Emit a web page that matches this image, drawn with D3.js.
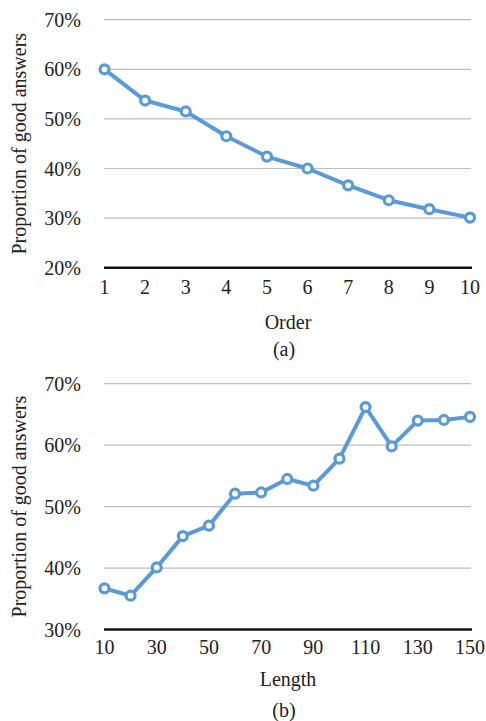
<!DOCTYPE html>
<html><head><meta charset="utf-8">
<script src="https://cdn.jsdelivr.net/npm/d3@7"></script>
<style>body{margin:0;background:#fff}svg{display:block}text{font-family:"Liberation Serif","Times New Roman",serif;fill:#222}</style>
</head><body>
<svg id="c" width="486" height="721"></svg>
<script>
const orderCats = [1,2,3,4,5,6,7,8,9,10];
const orderVals = [0.600,0.537,0.515,0.465,0.424,0.400,0.366,0.336,0.318,0.301];
const orderTicks = [0.2,0.3,0.4,0.5,0.6,0.7];
const lengthCats = [10,20,30,40,50,60,70,80,90,100,110,120,130,140,150];
const lengthVals = [0.367,0.355,0.401,0.452,0.469,0.521,0.523,0.545,0.534,0.578,0.662,0.598,0.640,0.641,0.646];
const lengthTicks = [0.3,0.4,0.5,0.6,0.7];
const lengthLabels = [10,30,50,70,90,110,130,150];

const svg = d3.select("#c");
const color = "#5B9BD5";
const fmt = d3.format(".0%");

function panel(cfg){
  const g = svg.append("g");
  const x = d3.scaleLinear().domain(d3.extent(cfg.cats)).range([104.5,470]);
  const y = d3.scaleLinear().domain([cfg.ticks[0], cfg.ticks[cfg.ticks.length-1]]).range([cfg.y0,cfg.y1]);
  // grid
  g.selectAll(".grid").data(cfg.ticks.slice(1)).join("line")
    .attr("x1",104).attr("x2",471).attr("y1",d=>y(d)).attr("y2",d=>y(d))
    .attr("stroke","#bdbdbd").attr("stroke-width",1.2);
  // baseline
  g.append("line").attr("x1",104).attr("x2",472).attr("y1",y(cfg.ticks[0])).attr("y2",y(cfg.ticks[0]))
    .attr("stroke","#111").attr("stroke-width",2.6);
  // y tick labels
  g.selectAll(".yt").data(cfg.ticks).join("text")
    .attr("x",81).attr("y",d=>y(d)).attr("dy","0.35em").attr("text-anchor","end")
    .attr("font-size",20).text(d=>fmt(d));
  // x tick labels
  g.selectAll(".xt").data(cfg.xlabels).join("text")
    .attr("x",d=>x(d)).attr("y",cfg.xty).attr("text-anchor","middle")
    .attr("font-size",20).text(d=>d);
  // line
  const data = cfg.cats.map((c,i)=>[c,cfg.vals[i]]);
  g.append("path").datum(data).attr("fill","none").attr("stroke",color).attr("stroke-width",4)
    .attr("stroke-linejoin","round")
    .attr("d",d3.line().x(d=>x(d[0])).y(d=>y(d[1])));
  g.selectAll(".pt").data(data).join("circle")
    .attr("cx",d=>x(d[0])).attr("cy",d=>y(d[1])).attr("r",4.5)
    .attr("fill","#fff").attr("stroke",color).attr("stroke-width",3.2);
  // axis titles
  g.append("text").attr("x",288).attr("y",cfg.xtitleY).attr("text-anchor","middle").attr("font-size",20).text(cfg.xtitle);
  g.append("text").attr("x",284).attr("y",cfg.capY).attr("text-anchor","middle").attr("font-size",20).text(cfg.cap);
  g.append("text").attr("transform",`translate(26,${(cfg.y0+cfg.y1)/2}) rotate(-90)`)
    .attr("text-anchor","middle").attr("font-size",20).text("Proportion of good answers");
}

panel({cats:orderCats, vals:orderVals, ticks:orderTicks, xlabels:orderCats,
  y0:267.7, y1:19.7, xty:294, xtitle:"Order", xtitleY:329, cap:"(a)", capY:356});
panel({cats:lengthCats, vals:lengthVals, ticks:lengthTicks, xlabels:lengthLabels,
  y0:629.5, y1:383.7, xty:654, xtitle:"Length", xtitleY:686, cap:"(b)", capY:717});
</script>
</body></html>
